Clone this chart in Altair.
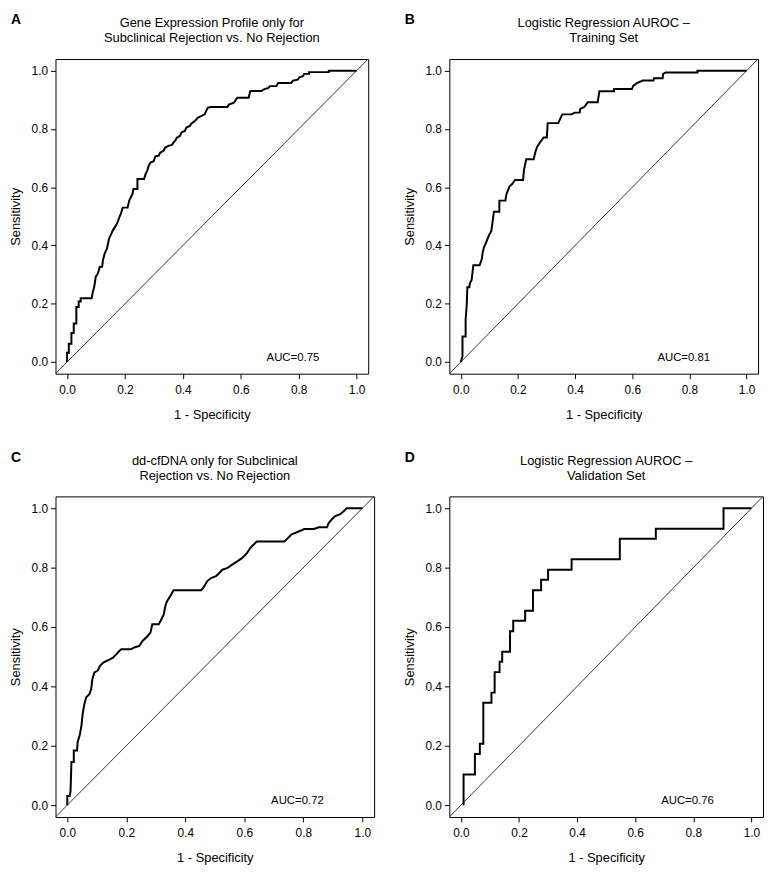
import altair as alt
import pandas as pd

FONT = "Liberation Sans"

# ---------------- data ----------------
A_x = [0, 0, 0.006, 0.006, 0.015, 0.015, 0.023, 0.023, 0.032, 0.032, 0.040, 0.040, 0.047, 0.047,
       0.085, 0.088, 0.094, 0.099, 0.107, 0.113, 0.121, 0.124, 0.130, 0.138, 0.145, 0.153, 0.158,
       0.169, 0.175, 0.181, 0.186, 0.192, 0.209, 0.215, 0.226, 0.229, 0.243, 0.243, 0.266, 0.271,
       0.277, 0.282, 0.288, 0.299, 0.305, 0.316, 0.322, 0.333, 0.339, 0.350, 0.362, 0.367, 0.373,
       0.379, 0.390, 0.395, 0.407, 0.412, 0.424, 0.429, 0.441, 0.452, 0.463, 0.475, 0.486, 0.497,
       0.554, 0.559, 0.576, 0.588, 0.627, 0.633, 0.672, 0.678, 0.695, 0.701, 0.723, 0.729, 0.774,
       0.780, 0.797, 0.802, 0.814, 0.819, 0.836, 0.836, 0.904, 0.904, 1.0]
A_y = [0, 0.032, 0.032, 0.063, 0.063, 0.100, 0.100, 0.132, 0.132, 0.189, 0.189, 0.208, 0.208, 0.219,
       0.219, 0.236, 0.259, 0.293, 0.305, 0.327, 0.327, 0.350, 0.373, 0.390, 0.424, 0.441, 0.452,
       0.469, 0.481, 0.498, 0.509, 0.530, 0.530, 0.555, 0.577, 0.594, 0.594, 0.628, 0.628, 0.645,
       0.657, 0.674, 0.685, 0.689, 0.706, 0.708, 0.719, 0.725, 0.736, 0.742, 0.745, 0.753, 0.759,
       0.770, 0.776, 0.788, 0.793, 0.805, 0.810, 0.818, 0.827, 0.839, 0.844, 0.850, 0.873, 0.875,
       0.875, 0.884, 0.890, 0.907, 0.907, 0.930, 0.930, 0.935, 0.941, 0.947, 0.947, 0.958, 0.958,
       0.966, 0.969, 0.977, 0.981, 0.989, 0.989, 0.995, 0.995, 1.0, 1.0]

B_x = [0, 0.006, 0.006, 0.017, 0.017, 0.021, 0.023, 0.030, 0.032, 0.038, 0.044, 0.066, 0.074, 0.076,
       0.081, 0.089, 0.098, 0.107, 0.116, 0.135, 0.135, 0.156, 0.160, 0.170, 0.179, 0.190, 0.218,
       0.221, 0.229, 0.255, 0.261, 0.267, 0.278, 0.290, 0.301, 0.304, 0.341, 0.347, 0.355, 0.387,
       0.399, 0.416, 0.418, 0.433, 0.444, 0.479, 0.485, 0.536, 0.536, 0.599, 0.603, 0.616, 0.637,
       0.674, 0.676, 0.706, 0.708, 0.717, 0.828, 0.828, 1.0]
B_y = [0, 0.020, 0.088, 0.088, 0.146, 0.197, 0.257, 0.257, 0.270, 0.282, 0.332, 0.332, 0.355, 0.372,
       0.394, 0.411, 0.434, 0.450, 0.516, 0.516, 0.554, 0.554, 0.577, 0.602, 0.610, 0.625, 0.625,
       0.659, 0.696, 0.696, 0.721, 0.738, 0.755, 0.771, 0.771, 0.820, 0.820, 0.833, 0.850, 0.850,
       0.856, 0.856, 0.869, 0.876, 0.892, 0.892, 0.929, 0.929, 0.937, 0.937, 0.948, 0.957, 0.966,
       0.966, 0.974, 0.974, 0.989, 0.994, 0.994, 1.0, 1.0]

C_x = [0, 0, 0.008, 0.011, 0.011, 0.014, 0.022, 0.022, 0.033, 0.035, 0.042, 0.048, 0.052, 0.058,
       0.064, 0.075, 0.081, 0.085, 0.092, 0.103, 0.111, 0.122, 0.138, 0.155, 0.166, 0.177, 0.183,
       0.216, 0.227, 0.244, 0.255, 0.271, 0.282, 0.288, 0.310, 0.319, 0.327, 0.332, 0.338, 0.349,
       0.360, 0.454, 0.463, 0.474, 0.487, 0.504, 0.515, 0.526, 0.543, 0.559, 0.576, 0.592, 0.609,
       0.620, 0.631, 0.642, 0.736, 0.744, 0.759, 0.775, 0.792, 0.803, 0.836, 0.853, 0.880, 0.886,
       0.897, 0.908, 0.925, 0.936, 0.947, 1.0]
C_y = [0, 0.031, 0.031, 0.047, 0.047, 0.145, 0.145, 0.184, 0.184, 0.212, 0.235, 0.268, 0.307, 0.341,
       0.363, 0.374, 0.391, 0.425, 0.447, 0.453, 0.469, 0.480, 0.488, 0.497, 0.508, 0.520, 0.525,
       0.525, 0.531, 0.536, 0.553, 0.568, 0.581, 0.609, 0.609, 0.626, 0.642, 0.670, 0.687, 0.704,
       0.724, 0.724, 0.735, 0.754, 0.765, 0.771, 0.782, 0.793, 0.799, 0.810, 0.821, 0.832, 0.849,
       0.866, 0.877, 0.888, 0.888, 0.896, 0.911, 0.918, 0.925, 0.930, 0.930, 0.936, 0.936, 0.950,
       0.963, 0.974, 0.980, 0.989, 1.0, 1.0]

# panel D is a clean staircase (step-after)
D_x = [0.009, 0.009, 0.048, 0.065, 0.077, 0.105, 0.116, 0.133, 0.142, 0.169, 0.180, 0.221, 0.248,
       0.276, 0.300, 0.381, 0.547, 0.671, 0.904, 1.0]
D_y = [0, 0.103, 0.172, 0.207, 0.345, 0.379, 0.448, 0.483, 0.517, 0.586, 0.621, 0.655, 0.724,
       0.759, 0.793, 0.828, 0.897, 0.931, 1.0, 1.0]

TITLES = {
    "A": ["Gene Expression Profile only for", "Subclinical Rejection vs. No Rejection"],
    "B": ["Logistic Regression AUROC \u2013", "Training Set"],
    "C": ["dd-cfDNA only for Subclinical", "Rejection vs. No Rejection"],
    "D": ["Logistic Regression AUROC \u2013", "Validation Set"],
}
AUC = {"A": "AUC=0.75", "B": "AUC=0.81", "C": "AUC=0.72", "D": "AUC=0.76"}
AUC_POS = [0.78, 0.015]
DIAG = [-0.1, 1.1]
TICKS = [0, 0.2, 0.4, 0.6, 0.8, 1.0]
DOMAIN = [-0.04, 1.04]


def panel(letter, xs, ys, w, h, interp):
    sc = alt.Scale(domain=DOMAIN, nice=False, zero=False)
    common = dict(values=TICKS, format=".1f", grid=False, domain=False, ticks=True,
                  tickColor="black", tickSize=5, labelFlush=False, labelFontSize=12,
                  labelColor="black", labelFont=FONT, titleFont=FONT, titleFontSize=13,
                  titleFontWeight="normal", titleColor="black")
    xax = alt.Axis(title="1 - Specificity", labelPadding=6, titlePadding=13, **common)
    yax = alt.Axis(title="Sensitivity", labelPadding=3, titlePadding=9, **common)
    X = alt.X("x:Q", scale=sc, axis=xax)
    Y = alt.Y("y:Q", scale=sc, axis=yax)

    df = pd.DataFrame({"x": xs, "y": ys, "i": list(range(len(xs)))})
    curve = alt.Chart(df).mark_line(color="black", strokeWidth=2, interpolate=interp,
                                    strokeJoin="miter").encode(x=X, y=Y, order="i:Q")
    diag = alt.Chart(pd.DataFrame({"x": DIAG, "y": DIAG})).mark_line(
        color="#333333", strokeWidth=1, clip=True).encode(x=X, y=Y)
    auc = alt.Chart(pd.DataFrame({"x": [AUC_POS[0]], "y": [AUC_POS[1]], "t": [AUC[letter]]})).mark_text(
        font=FONT, fontSize=11.5, color="black", baseline="middle").encode(x=X, y=Y, text="t:N")
    head = alt.Chart(pd.DataFrame({"t": ["\n".join(TITLES[letter])]})).mark_text(
        font=FONT, fontSize=13, color="black", align="center", baseline="bottom",
        lineBreak="\n", lineHeight=15).encode(x=alt.value(w / 2), y=alt.value(-29), text="t:N")
    return alt.layer(diag, curve, auc, head).properties(
        width=w, height=h,
        title=alt.TitleParams(text=letter, font=FONT, fontSize=14, fontWeight="bold",
                              color="black", anchor="start", frame="group", dx=-45,
                              offset=-10),
    )


pA = panel("A", A_x, A_y, 316, 318, "linear")
pB = panel("B", B_x, B_y, 312, 318, "linear")
pC = panel("C", C_x, C_y, 322, 324, "linear")
pD = panel("D", D_x, D_y, 317, 324, "step-after")

chart = alt.concat(pA, pB, pC, pD, columns=2, spacing={"row": 124, "column": 76},
                   bounds="flush").properties(padding=0).configure_view(
    stroke="black", strokeWidth=1
)

chart.save("out.html", embed_options={"renderer": "svg", "actions": False})
